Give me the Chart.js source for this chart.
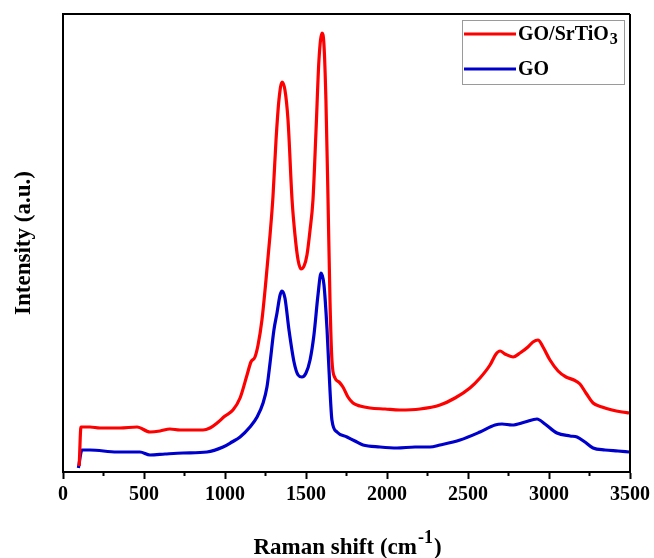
<!DOCTYPE html>
<html>
<head>
<meta charset="utf-8">
<script src="https://cdn.jsdelivr.net/npm/chart.js@4.4.1/dist/chart.umd.min.js"></script>
<style>
html,body{margin:0;padding:0;background:#fff;}
#wrap{width:654px;height:558px;}
</style>
</head>
<body>
<div id="wrap"><canvas id="c" width="654" height="558"></canvas></div>
<script>
// ---- data ----
const seriesNames = ['GO/SrTiO3', 'GO'];
const xTicks = [0, 500, 1000, 1500, 2000, 2500, 3000, 3500];

const compositeX = [100,111,167,228,352,457,537,599,660,722,784,864,907,951,1000,1049,1093,1136,1160,1185,1204,1228,1253,1278,1296,1315,1333,1352,1370,1389,1414,1432,1451,1469,1488,1506,1525,1543,1562,1580,1599,1611,1623,1636,1648,1660,1679,1704,1728,1759,1790,1833,1895,1988,2080,2204,2327,2420,2512,2574,2636,2673,2698,2728,2778,2821,2870,2901,2932,2963,3006,3056,3105,3154,3191,3228,3272,3327,3389,3451,3494];
const compositeY = [6,45,45,44,44,45,40,41,43,42,42,42,44,49,56,62,74,97,110,115,127,152,192,237,275,332,372,390,382,352,272,237,212,203,206,217,242,272,342,412,439,427,372,272,172,112,94,90,85,75,69,66,64,63,62,63,67,74,84,94,107,118,121,118,115,119,125,130,132,125,112,101,95,92,88,79,69,65,62,60,59];

const goX = [95,117,167,333,475,537,630,741,889,988,1043,1093,1154,1198,1235,1259,1278,1302,1321,1340,1352,1370,1395,1426,1451,1475,1500,1525,1549,1574,1593,1611,1630,1648,1660,1691,1753,1802,1852,1957,2062,2173,2265,2327,2451,2574,2667,2710,2772,2852,2926,2975,3049,3130,3173,3222,3272,3346,3426,3494];
const goY = [4,22,22,20,20,17,18,19,20,25,30,35,45,55,69,85,109,142,159,177,181,174,142,110,97,95,99,112,137,177,199,187,142,82,52,40,35,31,27,25,24,25,25,27,32,40,47,48,47,50,53,48,39,36,35,30,24,22,21,20];

const toPts = (xs, ys) => xs.map((x, i) => ({x: x, y: ys[i]}));

const SERIF = '"Liberation Serif", "Times New Roman", serif';

const framePlugin = {
  id: 'frame',
  afterDraw(chart) {
    const ctx = chart.ctx, a = chart.chartArea, xs = chart.scales.x;
    ctx.save();
    ctx.strokeStyle = '#000';
    ctx.lineWidth = 2;
    ctx.beginPath();
    ctx.moveTo(a.left, a.top); ctx.lineTo(a.right, a.top);
    ctx.moveTo(a.right, a.top); ctx.lineTo(a.right, a.bottom);
    ctx.stroke();
    // minor ticks
    ctx.beginPath();
    for (let v = 250; v < 3500; v += 500) {
      const px = xs.getPixelForValue(v);
      ctx.moveTo(px, a.bottom); ctx.lineTo(px, a.bottom + 4);
    }
    ctx.stroke();
    // x title with superscript
    ctx.fillStyle = '#000';
    ctx.textBaseline = 'alphabetic';
    const main = 'Raman shift (cm', sup = '-1', end = ')';
    ctx.font = 'bold 23px ' + SERIF;
    const w1 = ctx.measureText(main).width, w3 = ctx.measureText(end).width;
    ctx.font = 'bold 18px ' + SERIF;
    const w2 = ctx.measureText(sup).width;
    const total = w1 + w2 + w3;
    let x0 = (a.left + a.right) / 2 - total / 2;
    const base = 554;
    ctx.font = 'bold 23px ' + SERIF;
    ctx.fillText(main, x0, base);
    ctx.font = 'bold 18px ' + SERIF;
    ctx.fillText(sup, x0 + w1 + 1, base - 11);
    ctx.font = 'bold 23px ' + SERIF;
    ctx.fillText(end, x0 + w1 + w2 + 2, base);
    // legend
    const lx = 462, ly = 20, lw = 162, lh = 64;
    ctx.strokeStyle = '#9a9a9a';
    ctx.lineWidth = 1;
    ctx.strokeRect(lx + 0.5, ly + 0.5, lw, lh);
    const rows = [34, 69];
    chart.data.datasets.forEach((ds, i) => {
      const y = rows[i];
      ctx.strokeStyle = ds.borderColor;
      ctx.lineWidth = 3;
      ctx.beginPath();
      ctx.moveTo(464, y); ctx.lineTo(516, y);
      ctx.stroke();
      ctx.fillStyle = '#000';
      ctx.textBaseline = 'middle';
      const label = ds.label;
      const m = label.match(/^(.*?)(\d+)$/);
      ctx.font = 'bold 20px ' + SERIF;
      if (m) {
        ctx.fillText(m[1], 518, y + 1);
        const w = ctx.measureText(m[1]).width;
        ctx.font = 'bold 16px ' + SERIF;
        ctx.fillText(m[2], 518 + w + 1, y + 6);
      } else {
        ctx.fillText(label, 518, y + 1);
      }
    });
    ctx.restore();
  }
};

new Chart(document.getElementById('c'), {
  type: 'line',
  data: {
    datasets: [
      { label: seriesNames[0], data: toPts(compositeX, compositeY), borderColor: '#ff0000', borderWidth: 3.2, pointRadius: 0, cubicInterpolationMode: 'monotone', fill: false },
      { label: seriesNames[1], data: toPts(goX, goY), borderColor: '#0000cc', borderWidth: 3.2, pointRadius: 0, cubicInterpolationMode: 'monotone', fill: false }
    ]
  },
  options: {
    responsive: false,
    animation: false,
    events: [],
    layout: { padding: { left: 0, right: 24, top: 14, bottom: 0 } },
    plugins: { legend: { display: false }, tooltip: { enabled: false } },
    scales: {
      x: {
        type: 'linear', min: 0, max: 3500,
        afterBuildTicks(s) { s.ticks = xTicks.map(v => ({value: v})); },
        afterFit(s) { s.height = 86; },
        grid: { drawOnChartArea: false, drawTicks: true, tickLength: 7, tickColor: '#000', tickWidth: 2 },
        border: { display: true, color: '#000', width: 2 },
        ticks: { color: '#000', padding: 4, maxRotation: 0, callback: v => String(v), font: { family: SERIF, size: 20, weight: 'bold' } }
      },
      y: {
        type: 'linear', min: 0, max: 458,
        afterFit(s) { s.width = 63; },
        grid: { display: false, drawTicks: false },
        border: { display: true, color: '#000', width: 2 },
        ticks: { display: false },
        title: { display: true, text: 'Intensity (a.u.)', color: '#000', padding: { top: 10, bottom: 0 }, font: { family: SERIF, size: 23, weight: 'bold' } }
      }
    }
  },
  plugins: [framePlugin]
});
</script>
</body>
</html>
